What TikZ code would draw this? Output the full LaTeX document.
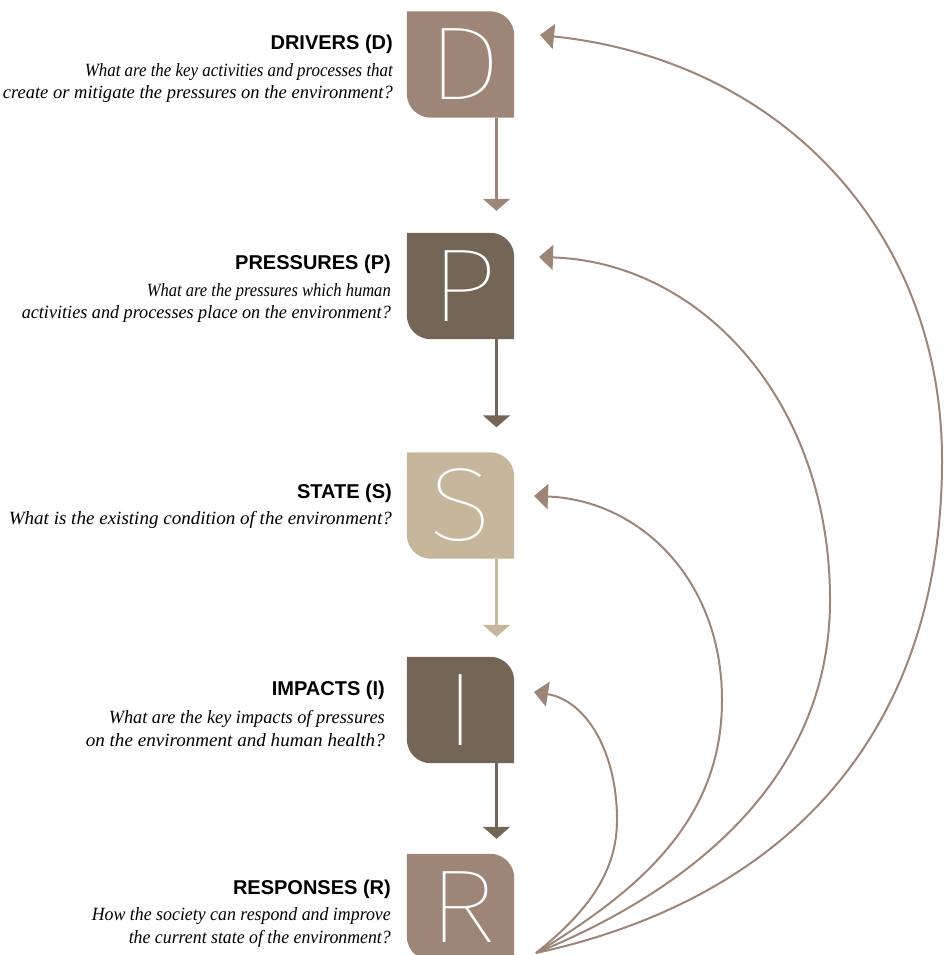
\documentclass[tikz,border=0pt]{standalone}
\usepackage{fontspec}
\setmainfont{Liberation Serif}
\newfontfamily\headfont{Liberation Sans}
\IfFontExistsTF{Fira Sans Thin}
  {\newfontfamily\letterfont{Fira Sans Thin}[FakeStretch=1.15]}
  {\IfFontExistsTF{Fira Sans ExtraLight}
    {\newfontfamily\letterfont{Fira Sans ExtraLight}[FakeStretch=1.15]}
    {\newfontfamily\letterfont{Fira Sans Light}[FakeStretch=1.15]}}
\usetikzlibrary{arrows.meta,backgrounds}
\definecolor{cD}{HTML}{9D8677}
\definecolor{cP}{HTML}{736656}
\definecolor{cS}{HTML}{C5B69C}
\tikzset{
  box/.style={minimum width=107pt, minimum height=106pt, inner sep=0pt},
  letter/.style={inner sep=0pt, text=white, font=\letterfont\fontsize{104}{104}\selectfont},
  head/.style={anchor=base east, inner sep=0pt, font=\headfont\bfseries\fontsize{20}{24}\selectfont},
  quest/.style={anchor=base east, inner sep=0pt, font=\itshape\fontsize{18.7}{22}\selectfont},
  vflow/.style={draw=#1, line width=2.5pt, -{Triangle[width=27pt,length=12pt]}},
  fb/.style={draw=cD, line width=2pt, -{Triangle[width=25pt,length=14pt]}},
}
\newcommand\tabshape[2]{%
  \fill[#2] (#1.north west) -- ([xshift=-24pt]#1.north east)
    arc[start angle=90,end angle=0,radius=24pt] -- (#1.south east)
    -- ([xshift=24pt]#1.south west) arc[start angle=270,end angle=180,radius=24pt] -- cycle;}
\newcommand\qline[2]{\resizebox{#1pt}{\height}{#2}}
\begin{document}
\begin{tikzpicture}[x=1pt,y=-1pt]
\useasboundingbox (0,0) rectangle (944,955);
% boxes
\node[box] (D) at (460.5,64.5) {};
\node[box] (P) at (460.5,286) {};
\node[box] (S) at (460.5,505.5) {};
\node[box] (I) at (460.5,710) {};
\node[box] (R) at (460.5,907) {};
\tabshape{D}{cD}
\tabshape{P}{cP}
\tabshape{S}{cS}
\tabshape{I}{cP}
\tabshape{R}{cD}
\node[letter] (Dl) at ([xshift=4pt]D.center) {D};
\node[letter] (Pl) at ([xshift=3pt]P.center) {P};
\node[letter] (Sl) at (S.center) {S};
\node[letter] (Il) at (I.center) {I};
\node[letter] (Rl) at ([xshift=2pt]R.center) {R};
% labels
\node[head] (Dh) at (393,50) {DRIVERS (D)};
\node[quest] (Dq1) at (393,77) {\qline{308}{What are the key activities and processes that}};
\node[quest] (Dq2) at (393,99) {\qline{390}{create or mitigate the pressures on the environment?}};
\node[head] (Ph) at (391,269) {PRESSURES (P)};
\node[quest] (Pq1) at (391,296) {\qline{244}{What are the pressures which human}};
\node[quest] (Pq2) at (391,318) {\qline{369}{activities and processes place on the environment?}};
\node[head] (Sh) at (392,498) {STATE (S)};
\node[quest] (Sq1) at (392,524) {\qline{383}{What is the existing condition of the environment?}};
\node[head] (Ih) at (385,695) {IMPACTS (I)};
\node[quest] (Iq1) at (385,723) {\qline{276}{What are the key impacts of pressures}};
\node[quest] (Iq2) at (385,746) {\qline{299}{on the environment and human health?}};
\node[head] (Rh) at (391,894) {RESPONSES (R)};
\node[quest] (Rq1) at (391,920) {\qline{299}{How the society can respond and improve}};
\node[quest] (Rq2) at (391,943) {\qline{262}{the current state of the environment?}};
% vertical flow
\draw[vflow=cD, shorten >=22pt] ([xshift=36pt]D.south) -- ([xshift=36pt]P.north);
\draw[vflow=cP, shorten >=25pt] ([xshift=36pt]P.south) -- ([xshift=36pt]S.north);
\draw[vflow=cS, shorten >=20pt] ([xshift=36pt]S.south) -- ([xshift=36pt]I.north);
\draw[vflow=cP, shorten >=15pt] ([xshift=36pt]I.south) -- ([xshift=36pt]R.north);
% feedback curves
\coordinate (Rout) at (536,953);
\coordinate (Din) at (540,35);
\coordinate (Pin) at (539,257);
\coordinate (Sin) at (534,496);
\coordinate (Iin) at (534,692);
\draw[fb] (Rout) .. controls (780,900) and (942,740) .. (942,460)
  .. controls (942,230) and (780,60) .. (Din);
\draw[fb] (Rout) .. controls (690,890) and (830,780) .. (830,600)
  .. controls (830,400) and (700,262) .. (Pin);
\draw[fb] (Rout) .. controls (640,890) and (722,820) .. (722,700)
  .. controls (722,580) and (640,500) .. (Sin);
\draw[fb] (Rout) .. controls (590,910) and (617,870) .. (617,820)
  .. controls (617,750) and (585,700) .. (Iin);
\end{tikzpicture}
\end{document}
